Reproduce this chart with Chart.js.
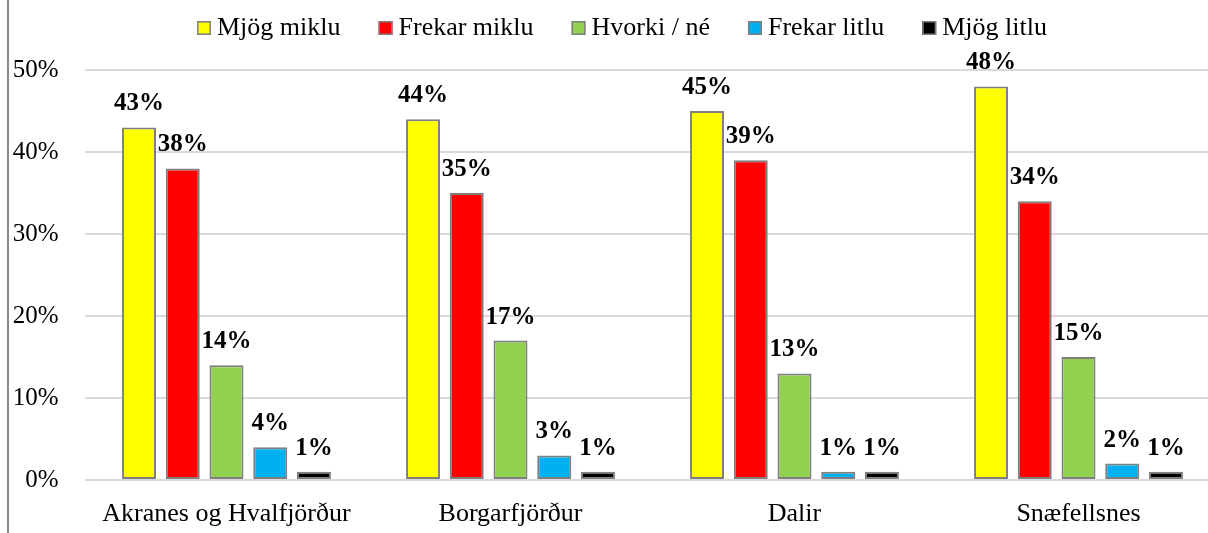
<!DOCTYPE html>
<html>
<head>
<meta charset="utf-8">
<script src="https://cdn.jsdelivr.net/npm/chart.js@4/dist/chart.umd.min.js"></script>
<style>
  html, body { margin: 0; padding: 0; background: #ffffff; overflow: hidden; }
  #wrap { position: relative; width: 1208px; height: 533px; overflow: hidden; }
  #c { display: block; }
</style>
</head>
<body>
<div id="wrap"><canvas id="c" width="1221" height="533"></canvas></div>
<script>
const categories = ["Akranes og Hvalfjörður", "Borgarfjörður", "Dalir", "Snæfellsnes"];
const seriesNames = ["Mjög miklu", "Frekar miklu", "Hvorki / né", "Frekar litlu", "Mjög litlu"];
const mjogMiklu = [43, 44, 45, 48];
const frekarMiklu = [38, 35, 39, 34];
const hvorkiNe = [14, 17, 13, 15];
const frekarLitlu = [4, 3, 1, 2];
const mjogLitlu = [1, 1, 1, 1];
const yTicks = [0, 10, 20, 30, 40, 50];
const seriesColors = ["#FFFF00", "#FF0000", "#92D050", "#00B0F0", "#000000"];

const seriesValues = [mjogMiklu, frekarMiklu, hvorkiNe, frekarLitlu, mjogLitlu];
const FONT = "'Liberation Serif', 'Times New Roman', serif";

const frameLine = {
  id: 'frameLine',
  beforeDraw(chart) {
    const ctx = chart.ctx;
    ctx.save();
    ctx.fillStyle = '#ffffff';
    ctx.fillRect(0, 0, chart.width, chart.height);
    ctx.fillStyle = '#8a8a8a';
    ctx.fillRect(7, 0, 2, chart.height);
    ctx.restore();
  }
};

const valueLabels = {
  id: 'valueLabels',
  afterDatasetsDraw(chart) {
    const ctx = chart.ctx;
    ctx.save();
    ctx.font = "bold 25px " + FONT;
    ctx.fillStyle = '#000000';
    ctx.textAlign = 'center';
    ctx.textBaseline = 'alphabetic';
    chart.data.datasets.forEach((ds, i) => {
      const meta = chart.getDatasetMeta(i);
      meta.data.forEach((bar, j) => {
        ctx.fillText(ds.data[j] + '%', bar.x, bar.y - 17);
      });
    });
    ctx.restore();
  }
};

const customLegend = {
  id: 'customLegend',
  afterDraw(chart) {
    const ctx = chart.ctx;
    ctx.save();
    ctx.font = "26px " + FONT;
    ctx.textBaseline = 'alphabetic';
    ctx.textAlign = 'left';
    let x = 197;
    const box = 14, gapBox = 6, gapItem = 38;
    const boxTop = 21, baseY = 35;
    chart.data.datasets.forEach((ds) => {
      ctx.fillStyle = ds.backgroundColor;
      ctx.fillRect(x, boxTop, box, box);
      ctx.strokeStyle = '#7f7f7f';
      ctx.lineWidth = 1.5;
      ctx.strokeRect(x + 0.75, boxTop + 0.75, box - 1.5, box - 1.5);
      ctx.fillStyle = '#000000';
      const tx = x + box + gapBox;
      ctx.fillText(ds.label, tx, baseY);
      x = tx + ctx.measureText(ds.label).width + gapItem;
    });
    ctx.restore();
  }
};

const datasets = seriesNames.map((name, i) => ({
  label: name,
  data: seriesValues[i],
  backgroundColor: seriesColors[i],
  borderColor: '#7f7f7f',
  borderWidth: 2,
  borderSkipped: false,
  categoryPercentage: 0.77,
  barPercentage: 0.777
}));

new Chart(document.getElementById('c'), {
  type: 'bar',
  data: { labels: categories, datasets },
  options: {
    responsive: false,
    animation: false,
    devicePixelRatio: 1,
    layout: { padding: { top: 70, left: 0, right: 0.5, bottom: 0 } },
    plugins: {
      legend: { display: false },
      tooltip: { enabled: false }
    },
    scales: {
      x: {
        grid: { display: false, drawTicks: false },
        border: { display: false },
        ticks: {
          color: '#000000',
          font: { family: FONT, size: 26 },
          padding: 19,
          maxRotation: 0,
          autoSkip: false
        },
        afterFit(scale) { scale.height = 53; }
      },
      y: {
        min: 0,
        max: 50,
        afterBuildTicks(scale) { scale.ticks = yTicks.map(v => ({ value: v })); },
        grid: { color: '#d9d9d9', lineWidth: 2, drawTicks: false },
        border: { display: false },
        ticks: {
          color: '#000000',
          font: { family: FONT, size: 25 },
          padding: 26,
          callback: (v) => v + '%'
        },
        afterFit(scale) { scale.width = 84.5; }
      }
    }
  },
  plugins: [frameLine, valueLabels, customLegend]
});
</script>
</body>
</html>
